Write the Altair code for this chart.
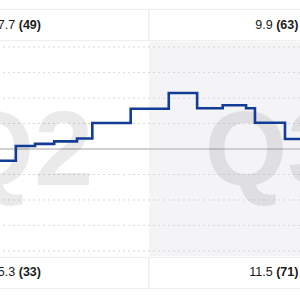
import altair as alt
import pandas as pd

# ---- data ----
step_day = [120, 134.1, 141.0, 147.9, 156.1, 161.6, 175.4, 189.1, 199.3, 208.5, 216.9, 220.1, 230.9, 245]
step_val = [-0.46, 0.12, 0.20, 0.30, 0.41, 1.02, 1.58, 2.20, 1.60, 1.72, 1.60, 1.03, 0.39, 0.39]

quarters = ["Q2", "Q3"]
q_start = [91, 182]
q_end = [182, 273]
q_center = [136.5, 227.5]
q_shaded = [False, True]
label_anchor = [134.6, 227.2]

top_val = ["7.7", "9.9"]
top_cnt = ["(49)", "(63)"]
bot_val = ["5.3", "11.5"]
bot_cnt = ["(33)", "(71)"]

grid_vals = [-4, -3, -2, -1, 1, 2, 3, 4]

# layout constants (data units)
band_in, band_out = 4.25, 5.48
top_text_y, bot_text_y = 4.70, -4.98
plot_lim = 4.2
q_label_y = -1.41

FONT = "Liberation Sans"

xs = alt.Scale(domain=[128.4, 236.3], nice=False, zero=False)
ys = alt.Scale(domain=[-5.926, 5.848], nice=False, zero=False)

line_df = pd.DataFrame({"day": step_day, "val": step_val})
q_df = pd.DataFrame({
    "q": quarters, "start": q_start, "end": q_end, "center": q_center,
    "shaded": q_shaded, "anchor": label_anchor,
    "top_val": top_val, "top_cnt": top_cnt, "bot_val": bot_val, "bot_cnt": bot_cnt,
})
q_df["lo"] = -plot_lim
q_df["hi"] = plot_lim
q_df["band_in_top"] = band_in
q_df["band_out_top"] = band_out
q_df["band_in_bot"] = -band_in
q_df["band_out_bot"] = -band_out
q_df["ty"] = top_text_y
q_df["by"] = bot_text_y
q_df["qy"] = q_label_y
grid_df = pd.DataFrame({"g": grid_vals})
zero_df = pd.DataFrame({"g": [0]})

base_q = alt.Chart(q_df)

bg = base_q.transform_filter("datum.shaded").mark_rect(color="#f4f4f7").encode(
    x=alt.X("start:Q", scale=xs, axis=None), x2="end:Q",
    y=alt.Y("lo:Q", scale=ys, axis=None), y2="hi:Q",
)

grid = alt.Chart(grid_df).mark_rule(color="#d8d8d8", strokeWidth=1, strokeDash=[2, 3]).encode(
    y=alt.Y("g:Q", scale=ys, axis=None)
)
zero = alt.Chart(zero_df).mark_rule(color="#c2c2c2", strokeWidth=1.3).encode(
    y=alt.Y("g:Q", scale=ys, axis=None)
)

qlabel = base_q.mark_text(
    font=FONT, fontSize=106, fontWeight="bold", color="#000000", opacity=0.08,
    align="center", baseline="alphabetic",
).encode(
    x=alt.X("center:Q", scale=xs, axis=None),
    y=alt.Y("qy:Q", scale=ys, axis=None),
    text="q:N",
)

band_top = base_q.mark_rect(fill="white", stroke="#ebebeb", strokeWidth=1).encode(
    x=alt.X("start:Q", scale=xs, axis=None), x2="end:Q",
    y=alt.Y("band_in_top:Q", scale=ys, axis=None), y2="band_out_top:Q",
)
band_bot = base_q.mark_rect(fill="white", stroke="#ebebeb", strokeWidth=1).encode(
    x=alt.X("start:Q", scale=xs, axis=None), x2="end:Q",
    y=alt.Y("band_in_bot:Q", scale=ys, axis=None), y2="band_out_bot:Q",
)

def txt(field, yfield, bold, align, dx):
    return base_q.mark_text(
        font=FONT, fontSize=12.5, fontWeight="bold" if bold else "normal",
        color="#1c1c1c", align=align, baseline="alphabetic", dx=dx,
    ).encode(
        x=alt.X("anchor:Q", scale=xs, axis=None),
        y=alt.Y(f"{yfield}:Q", scale=ys, axis=None),
        text=f"{field}:N",
    )

texts = [
    txt("top_val", "ty", False, "right", -2),
    txt("top_cnt", "ty", True, "left", 1.5),
    txt("bot_val", "by", False, "right", -2),
    txt("bot_cnt", "by", True, "left", 1.5),
]

line = alt.Chart(line_df).mark_line(
    interpolate="step-after", color="#123c96", strokeWidth=2.6, strokeJoin="miter"
).encode(
    x=alt.X("day:Q", scale=xs, axis=None),
    y=alt.Y("val:Q", scale=ys, axis=None),
)

chart = alt.layer(bg, grid, zero, qlabel, band_top, band_bot, *texts, line).properties(
    width=300, height=300, padding=0,
    autosize=alt.AutoSizeParams(type="none"),
    background="white",
).configure_view(stroke=None)

chart.save("out.html", embed_options={"renderer": "svg", "actions": False})
